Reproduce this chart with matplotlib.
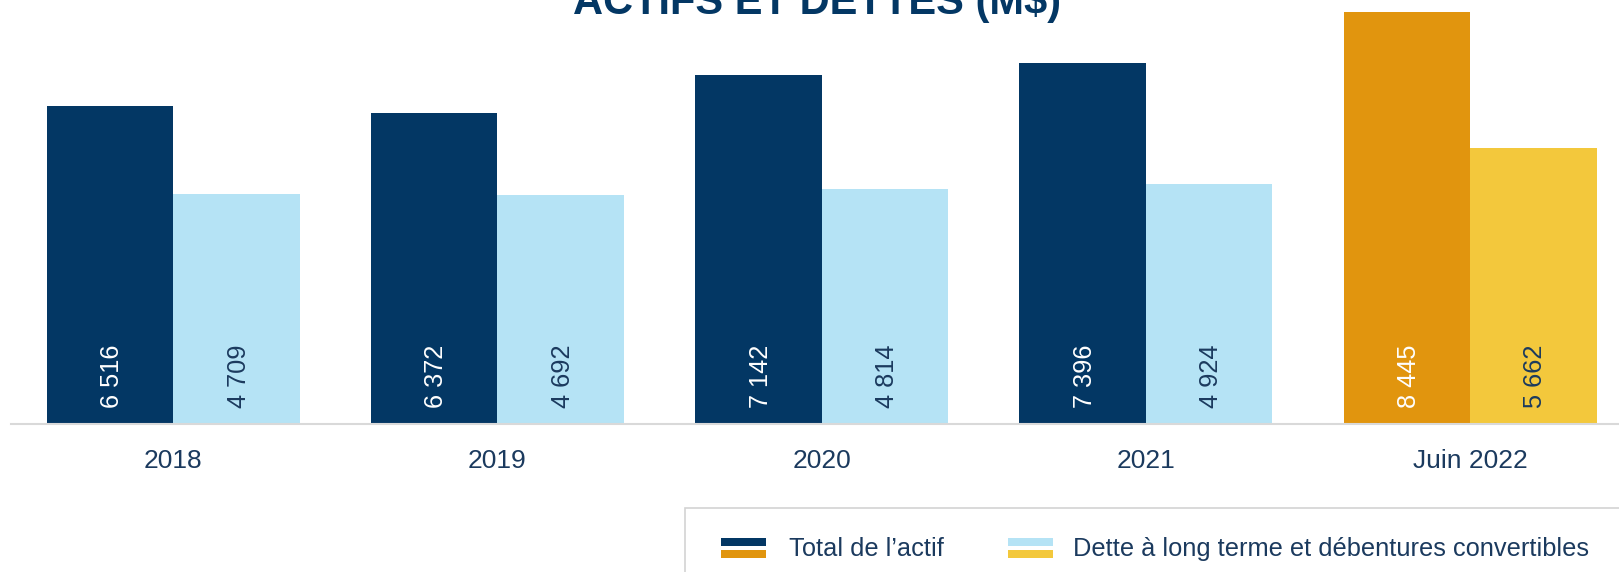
"""Actifs et dettes (M$) — bar chart, 2018 to June 2022."""

import matplotlib
matplotlib.use('Agg')
import numpy as np
import matplotlib.pyplot as plt
from matplotlib.patches import Rectangle

periods   = ['2018', '2019', '2020', '2021', 'Juin 2022']
actif     = [6516, 6372, 7142, 7396, 8445]
dette     = [4709, 4692, 4814, 4924, 5662]
labels    = ["Total de l\u2019actif", 'Dette \u00e0 long terme et d\u00e9bentures convertibles']

NAVY      = '#033764'
LIGHTBLUE = '#b5e3f5'
ORANGE    = '#e1950e'
YELLOW    = '#f3c83c'
TEXT      = '#1b3a5e'
GRID      = '#d9d9d9'

plt.rcParams['font.family'] = ['Liberation Sans', 'DejaVu Sans']

W, H = 1619, 572
fig = plt.figure(figsize=(W / 100, H / 100), dpi=100)
ax  = fig.add_axes([11 / W, 148 / H, 1 - 11 / W, 424 / H])

x     = np.arange(len(periods))
width = 0.39
dark_cols  = [NAVY] * (len(periods) - 1) + [ORANGE]
light_cols = [LIGHTBLUE] * (len(periods) - 1) + [YELLOW]

ax.bar(x - width / 2, actif, width, color=dark_cols, linewidth=0)
ax.bar(x + width / 2, dette, width, color=light_cols, linewidth=0)


def fmt(v):
    return f'{v:,}'.replace(',', ' ')


for xi, a, d in zip(x, actif, dette):
    ax.annotate(fmt(a), xy=(xi - width / 2, 0), xytext=(6.5, 11.5), textcoords='offset points',
                rotation=90, rotation_mode='anchor', ha='left', va='baseline',
                fontsize=18.3, color='white')
    ax.annotate(fmt(d), xy=(xi + width / 2, 0), xytext=(6.5, 11.5), textcoords='offset points',
                rotation=90, rotation_mode='anchor', ha='left', va='baseline',
                fontsize=18.3, color=TEXT)

ax.set_xlim(-0.5006, 4.4593)
ax.set_ylim(0, 8689)
ax.set_xticks(x)
ax.set_xticklabels(periods, fontsize=19, color=TEXT)
ax.tick_params(axis='x', length=0, pad=18)
ax.set_yticks([])
for side in ['top', 'right', 'left']:
    ax.spines[side].set_visible(False)
ax.spines['bottom'].set_color(GRID)
ax.spines['bottom'].set_linewidth(1.5)

# title, partly cut off by the top edge
fig.text(817 / W, (H - 14) / H, 'ACTIFS ET DETTES (M$)', ha='center', va='baseline',
         fontsize=30, fontweight='bold', color=NAVY)

# legend box (runs off the right and bottom edges)
def px_rect(x0, y0, x1, y1, **kw):
    fig.patches.append(Rectangle((x0 / W, 1 - y1 / H), (x1 - x0) / W, (y1 - y0) / H,
                                 transform=fig.transFigure, figure=fig, **kw))


px_rect(685, 508, 1640, 600, facecolor='none', edgecolor='#d3d3d3', linewidth=1.2)
for sx, top_c, bot_c, tx, lab in [(721, NAVY, ORANGE, 789, labels[0]),
                                  (1008, LIGHTBLUE, YELLOW, 1073, labels[1])]:
    px_rect(sx, 538, sx + 45, 545.7, facecolor=top_c, linewidth=0)
    px_rect(sx, 550, sx + 45, 557.7, facecolor=bot_c, linewidth=0)
    fig.text(tx / W, 1 - 555.7 / H, lab, ha='left', va='baseline', fontsize=18.3, color=TEXT)

fig.savefig('out.png', dpi=100)
